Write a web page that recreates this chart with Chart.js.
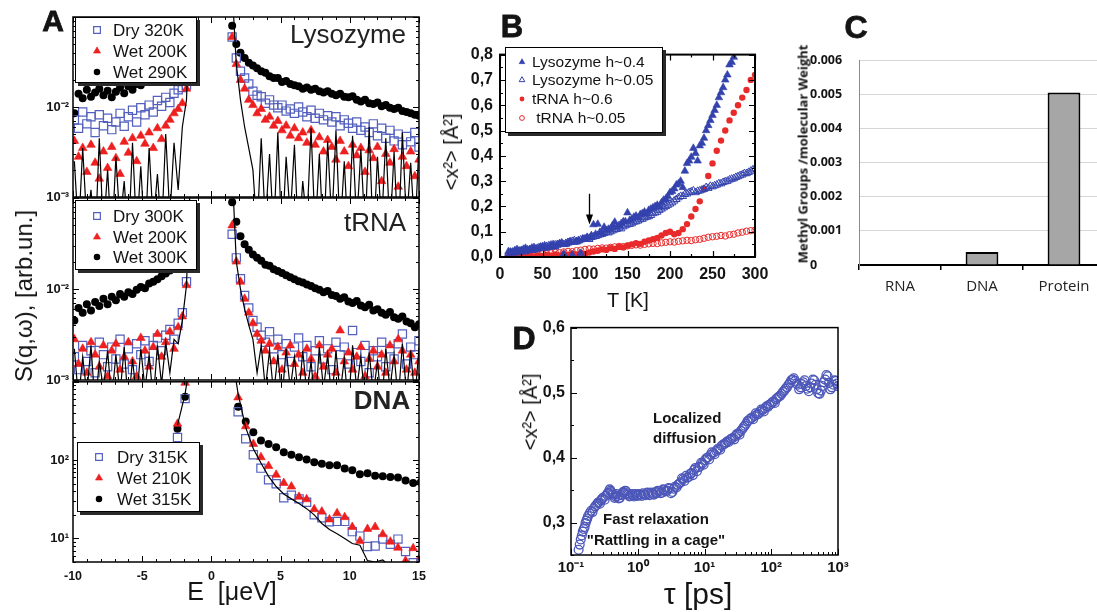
<!DOCTYPE html>
<html>
<head>
<meta charset="utf-8">
<script src="https://cdn.jsdelivr.net/npm/chart.js@4.4.1/dist/chart.umd.min.js"></script>
<style>
  html, body { margin: 0; padding: 0; background: #fff; }
  body { width: 1097px; height: 612px; position: relative; overflow: hidden;
         font-family: "Liberation Sans", Arial, sans-serif; color: #141414; }
  canvas { position: absolute; }
  .t { position: absolute; white-space: nowrap; line-height: 1; transform: translate(-50%, -50%); }
  .l { transform: translate(0, -50%); }
  .r { transform: translate(-50%, -50%) rotate(-90deg); }
  .big { font-weight: bold; -webkit-text-stroke: 0.8px #141414; }
</style>
</head>
<body>
<script>
// ---------- Panel A: quasi-elastic spectra, energy transfer in µeV ----------
const ENERGY_A = [
  -9.9,-9.6,-9.3,-9.0,-8.7,-8.4,-8.1,-7.8,-7.5,-7.2,
  -6.9,-6.6,-6.3,-6.0,-5.7,-5.4,-5.1,-4.8,-4.5,-4.2,
  -3.9,-3.6,-3.3,-3.0,-2.7,-2.4,-2.1,-1.8,-1.5,
  1.5,1.8,2.1,2.4,2.7,3.0,3.3,3.6,3.9,4.2,
  4.5,4.8,5.1,5.4,5.7,6.0,6.3,6.6,6.9,7.2,
  7.5,7.8,8.1,8.4,8.7,9.0,9.3,9.6,9.9,10.2,
  10.5,10.8,11.1,11.4,11.7,12.0,12.3,12.6,12.9,13.2,
  13.5,13.8,14.1,14.4,14.7,15.0
];

// Lysozyme
const LYSO_DRY_320 = [
  .0072,.0058,.0088,.0065,.0078,.0052,.0082,.0062,.0075,.0056,
  .0068,.0085,.0061,.0078,.0092,.0068,.0098,.0082,.0105,.0088,
  .0118,.0102,.0128,.0112,.0142,.0155,.0165,.0175,.030,
  .060,.035,.025,.021,.018,.015,.0135,.013,.011,.012,
  .0105,.0098,.0105,.009,.0095,.0085,.010,.0088,.0078,.0092,
  .0075,.0085,.0072,.008,.0068,.0078,.0062,.0072,.0066,.0058,
  .0068,.0055,.006,.0052,.0065,.0048,.0058,.0045,.0055,.0042,
  .005,.0038,.0047,.0041,.0052,.0036
];
const LYSO_WET_200 = [
  .0042,.0028,.0035,.0019,.0038,.0024,.0016,.0032,.0021,.0036,
  .0027,.0018,.0041,.0031,.0045,.0025,.0048,.0039,.0052,.0035,
  .0058,.0044,.0062,.0072,.0085,.0095,.011,.016,.040,
  .060,.030,.020,.016,.012,.0105,.0085,.0095,.0072,.0078,
  .0062,.007,.0055,.0062,.0048,.0058,.0045,.0052,.004,.0055,
  .0038,.0046,.0032,.0043,.0036,.0026,.0042,.0032,.0022,.0038,
  .0029,.0035,.0019,.0033,.0027,.0036,.0015,.003,.0024,.0034,
  .0013,.0028,.0022,.0032,.0017,.0026
];
const LYSO_WET_290 = [
  .0085,.014,.0125,.0155,.013,.0145,.016,.0135,.0152,.0128,
  .0148,.0165,.0142,.017,.0155,.018,.0175,.020,.021,.023,
  .025,.027,.030,.033,.037,.042,.050,.060,.080,
  .080,.050,.040,.035,.031,.029,.027,.025,.024,.022,
  .021,.021,.019,.0195,.018,.0175,.017,.016,.0165,.0155,
  .016,.015,.0145,.015,.014,.0135,.014,.013,.0128,.0132,
  .012,.0115,.012,.011,.0108,.0112,.0102,.0105,.0098,.0095,
  .0098,.009,.0088,.0085,.0082,.008
];
const LYSO_RESOLUTION = [
  .0025,.0004,.0035,.0005,.0012,.0003,.0045,.0004,.002,.0003,
  .0028,.0005,.0015,.0003,.004,.0004,.0022,.0003,.0035,.0005,
  .0018,.0004,.005,.0006,.004,.0012,.006,.012,.2,
  .2,.03,.012,.006,.0035,.002,.0004,.0045,.0005,.003,
  .0004,.0052,.0003,.0028,.0006,.0038,.0003,.0015,.0005,.0058,
  .0004,.003,.0003,.0042,.0005,.0055,.0004,.0025,.0003,.0048,
  .0005,.0034,.0004,.006,.0003,.0028,.0005,.0045,.0004,.0032,
  .0003,.0052,.0005,.0024,.0004,.0038
];

// tRNA
const TRNA_DRY_300 = [
  .0018,.0013,.0024,.0016,.0021,.0012,.0026,.0019,.0014,.0023,
  .0017,.0028,.0015,.0022,.0013,.0025,.0019,.0027,.0016,.0024,
  .0029,.0021,.0031,.0036,.0028,.0042,.0055,.012,.045,
  .040,.022,.013,.0085,.0062,.0045,.0038,.0031,.0026,.0034,
  .0022,.0028,.0019,.0025,.0016,.0023,.0029,.0018,.0024,.0014,
  .0021,.0027,.0017,.0022,.0013,.0026,.0019,.0023,.0015,.0035,
  .002,.0016,.0024,.0012,.0021,.0018,.0026,.0014,.0022,.0017,
  .0025,.0032,.0015,.0023,.0019,.0027
];
const TRNA_WET_200 = [
  .0028,.0015,.0022,.0012,.0026,.0019,.0014,.0024,.0011,.0021,
  .0025,.0013,.0018,.0026,.0016,.0011,.0029,.0021,.0014,.0023,
  .0032,.0018,.0026,.0034,.0022,.0038,.005,.011,.05,
  .05,.02,.012,.0078,.0055,.0042,.0032,.0027,.0021,.0025,
  .0016,.0023,.0013,.002,.0024,.0015,.0019,.0012,.0022,.0017,
  .0011,.0024,.0014,.0019,.0022,.0012,.0035,.0016,.002,.0013,
  .0018,.0023,.0011,.0017,.0021,.0014,.0019,.0012,.0024,.0016,
  .0028,.0021,.0013,.0019,.0012,.0016
];
const TRNA_WET_300 = [
  .0045,.0062,.0055,.0068,.0058,.0072,.0065,.0078,.0068,.0082,
  .0075,.0088,.0082,.0092,.0088,.0098,.0105,.0102,.0115,.012,
  .0128,.0138,.0148,.016,.0175,.019,.024,.035,.06,
  .09,.055,.038,.031,.027,.024,.022,.0205,.0185,.018,
  .0165,.0158,.015,.0142,.0135,.0128,.0122,.0118,.0112,.0108,
  .0102,.0098,.0092,.0095,.0086,.0084,.0078,.0081,.0073,.007,
  .0074,.0066,.0063,.0067,.0058,.006,.0055,.0052,.0056,.0049,
  .0047,.005,.0044,.0042,.0038,.0041
];
const TRNA_RESOLUTION = [
  .0022,.0006,.0018,.0007,.0024,.0005,.0016,.0008,.0021,.0006,
  .0019,.0007,.0023,.0005,.0017,.0006,.0022,.0008,.0019,.0006,
  .0024,.0009,.0026,.0012,.0028,.0025,.0045,.011,.2,
  .2,.02,.01,.006,.004,.0028,.0012,.0024,.0008,.0021,
  .0007,.0019,.0006,.0022,.0008,.0018,.0006,.0021,.0007,.0016,
  .0005,.0023,.0008,.0019,.0006,.0021,.0007,.0017,.0005,.0024,
  .0008,.0018,.0006,.002,.0007,.0016,.0005,.0022,.0008,.0019,
  .0006,.0025,.0007,.0021,.0006,.0023
];

// DNA
const ENERGY_DNA = [
  -2.45,-1.9,-1.35,1.38,1.93,2.48,3.03,3.58,4.13,4.68,
  5.23,5.78,6.33,6.88,7.43,7.98,8.53,9.08,9.63,10.18,
  10.73,11.28,11.83,12.38,12.93,13.48,14.03,14.58,15.13
];
const DNA_DRY_315 = [194,610,3000,3000,415,187,117,79,56,50, 33,35.6,32,29,20,18.3,16.3,16.5,16.5,12.2, 10.7,7.9,8.0,9.8,8.4,9.8,6.8,4.9,4.8];
const DNA_WET_210 = [291,970,3000,3000,632,270,161,109,84,65, 51,46,34,31.6,23.6,22,17.5,21,18.7,14, 9.3,13.2,14,11.3,9.1,7.6,5.2,7.5,6];
const DNA_WET_315 = [251,645,3000,3000,481,312,227,178,161,146, 126,117,109,102,94,90,86,86,78,74, 66,68,63,62,61,60,55,51,52];
const DNA_RESOLUTION = [280,700,3000,3000,700,260,140,92,62,46, 37,32,28,24,20,15.5,13,11.5,10,8.6, 8.2,5.2,5.0,5.3,4.4,4.0,3.8,3.5,3.3];

const E_TICK_LABELS = [-10, -5, 0, 5, 10, 15];
const LYSO_Y_TICKS = [1e-3, 1e-2];  const LYSO_Y_LABELS = ['10⁻³', '10⁻²'];
const TRNA_Y_TICKS = [1e-3, 1e-2];  const TRNA_Y_LABELS = ['10⁻³', '10⁻²'];
const DNA_Y_TICKS  = [10, 100];     const DNA_Y_LABELS  = ['10¹', '10²'];

// ---------- Panel B: mean square displacement vs temperature ----------
const TEMPERATURE = [
  10,15,20,25,30,35,40,45,50,55, 60,65,70,75,80,85,90,95,100,105,
  110,115,120,125,130,135,140,145,150,155, 160,165,170,175,180,185,190,195,200,205,
  210,215,220,225,230,235,240,245,250,255, 260,265,270,275,280,285,290,295,300
];
const LYSO_H04 = [
  .022,.018,.030,.025,.035,.028,.038,.032,.042,.036, .048,.040,.052,.012,.055,.008,.062,.015,.070,.075,
  .128,.130,.095,.105,.112,.138,.125,.140,.175,.150, .162,.168,.178,.185,.195,.205,.215,.230,.255,.270,
  .290,.275,.370,.395,.410,.440,.470,.520,.560,.600, .650,.700,.760,.790,null,null,null,null,null
];
const LYSO_H005 = [
  .015,.020,.018,.025,.022,.030,.028,.036,.034,.042, .040,.048,.052,.050,.058,.062,.060,.068,.072,.070,
  .080,.085,.090,.098,.100,.108,.115,.120,.128,.132, .140,.148,.155,.160,.172,.178,.190,.200,.210,.222,
  .235,.240,.250,.258,.255,.262,.268,.272,.278,.285, .290,.298,.305,.310,.318,.325,.330,.340,.350
];
// second, interleaved scan of the two lysozyme samples
const TEMPERATURE_2 = [
  12.5,17.5,22.5,27.5,32.5,37.5,42.5,47.5,52.5,57.5, 62.5,67.5,72.5,77.5,82.5,87.5,92.5,97.5,102.5,107.5,
  112.5,117.5,122.5,127.5,132.5,137.5,142.5,147.5,152.5,157.5, 162.5,167.5,172.5,177.5,182.5,187.5,192.5,197.5,202.5,207.5,
  212.5,217.5,222.5,227.5,232.5,237.5,242.5,247.5,252.5,257.5, 262.5,267.5,272.5,277.5,282.5,287.5,292.5,297.5
];
const LYSO_H04_2 = [
  .020,.026,.022,.031,.027,.036,.030,.040,.045,.039, .050,.046,.055,.050,.060,.058,.066,.072,.078,.085,
  .090,.098,.118,.110,.125,.118,.132,.140,.145,.158, .155,.172,.170,.190,.200,.198,.225,.240,.260,.285,
  .300,.340,.380,.430,.380,.450,.500,.540,.580,.630, .670,.720,.770,null,null,null,null,null
];
const LYSO_H005_2 = [
  .018,.016,.024,.021,.028,.026,.033,.038,.036,.045, .043,.050,.055,.054,.060,.065,.064,.070,.075,.078,
  .082,.088,.094,.096,.104,.110,.112,.124,.130,.138, .143,.150,.158,.165,.175,.185,.195,.205,.215,.228,
  .240,.248,.255,.262,.260,.265,.275,.280,.282,.290, .295,.300,.308,.315,.322,.330,.335,.345
];
const TRNA_H06 = [
  .000,.002,.000,.003,.001,.004,.002,.006,.003,.008, .005,.010,.006,.012,.008,.014,.010,.016,.012,.018,
  .022,.025,.030,.028,.035,.032,.040,.038,.045,.050, .055,.052,.060,.065,.070,.075,.085,.095,.100,.090,
  .095,.110,.130,.160,.190,.220,.270,.320,.370,.420, .460,.500,.540,.570,.600,.630,.660,.700,.720
];
const TRNA_H005 = [
  .003,.005,.004,.007,.006,.009,.008,.012,.014,.013, .016,.018,.017,.020,.022,.021,.025,.027,.030,.032,
  .031,.034,.036,.035,.038,.040,.042,.041,.044,.046, .048,.047,.050,.052,.054,.053,.056,.058,.060,.059,
  .062,.064,.066,.065,.068,.070,.074,.078,.080,.082, .085,.083,.088,.090,.095,.098,.102,.104,.106
];
const T_TICK_LABELS = [0, 50, 100, 150, 200, 250, 300];
const MSD_B_TICKS = [0, 0.1, 0.2, 0.3, 0.4, 0.5, 0.6, 0.7, 0.8];
const MSD_B_LABELS = ['0,0','0,1','0,2','0,3','0,4','0,5','0,6','0,7','0,8'];
const ARROW_T = 105, ARROW_FROM = 0.25, ARROW_TO = 0.128;

// ---------- Panel C: methyl groups per molecular weight ----------
const MOLECULES = ['RNA', 'DNA', 'Protein'];
const METHYL_PER_MW = [0, 0.00038, 0.00505];
const C_Y_TICKS = [0, 0.001, 0.002, 0.003, 0.004, 0.005, 0.006];
const C_Y_LABELS = ['0', '0.001', '0.002', '0.003', '0.004', '0.005', '0.006'];

// ---------- Panel D: MSD vs time window ----------
const TAU_PS = [
  0.13,0.135,0.14,0.145,0.15,0.155,0.16,0.165,0.17,0.175,
  0.18,0.19,0.20,0.21,0.22,0.23,0.24,0.25,0.26,0.27,
  0.28,0.29,0.30,0.32,0.33,0.35,0.36,0.38,0.39,0.40,
  0.42,0.43,0.45,0.46,0.48,0.50,0.52,0.54,0.56,0.58,
  0.60,0.62,0.65,0.67,0.70,0.72,0.75,0.78,0.82,0.85,
  0.88,0.92,0.96,1.0,1.05,1.1,1.15,1.2,1.25,1.3,
  1.4,1.45,1.5,1.6,1.7,1.75,1.85,1.9,2.0,2.1,
  2.2,2.3,2.4,2.5,2.6,2.75,2.9,3.0,3.15,3.3,
  3.45,3.6,3.8,4.0,4.2,4.4,4.6,4.8,5.0,5.3,
  5.5,5.8,6.1,6.4,6.7,7.0,7.3,7.7,8.1,8.5,
  8.9,9.3,9.7,10.2,10.7,11.2,11.7,12.3,12.9,13.5,
  14.2,15,15.7,16.5,17.2,18,19,20,21,22,
  23,24,25,26.5,28,29,30.5,32,33.5,35,
  37,38.5,40,42,44,46,48.5,51,53.5,56,
  58.5,61,64,67,70.5,74,77.5,81,85,89,
  93,98,103,108,113,118,124,130,136,143,
  150,157,164,172,181,190,199,208,218,228,
  239,250,262,275,287,300,315,330,347,365,
  382,400,420,440,460,480,505,530,555,580,
  610,640,670,700,735,770,810,850,890,930,
  965,1000
];
const MSD_TAU = [
  .258,.266,.274,.280,.286,.290,.293,.299,.303,.306,
  .310,.314,.318,.316,.322,.325,.327,.330,.331,.329,
  .334,.336,.338,.335,.341,.344,.346,.351,.349,.347,
  .345,.343,.338,.340,.344,.341,.337,.338,.342,.344,
  .347,.346,.349,.348,.345,.343,.340,.341,.344,.342,
  .340,.344,.342,.341,.344,.343,.341,.345,.343,.342,
  .346,.344,.342,.346,.344,.343,.347,.345,.349,.348,
  .345,.346,.351,.350,.348,.349,.353,.352,.345,.347,
  .352,.355,.354,.358,.360,.362,.368,.367,.364,.372,
  .369,.370,.375,.376,.373,.381,.384,.379,.385,.386,
  .392,.391,.389,.396,.399,.400,.397,.404,.408,.407,
  .405,.410,.413,.414,.412,.418,.420,.421,.423,.425,
  .424,.427,.429,.430,.428,.433,.436,.437,.435,.441,
  .444,.447,.449,.452,.456,.457,.460,.461,.459,.464,
  .468,.466,.467,.470,.474,.473,.471,.476,.479,.478,
  .481,.482,.485,.486,.484,.490,.492,.494,.495,.498,
  .501,.503,.506,.508,.512,.515,.519,.520,.522,.518,
  .514,.512,.505,.508,.513,.516,.519,.510,.506,.502,
  .508,.514,.520,.519,.512,.505,.499,.498,.503,.510,
  .516,.520,.527,.525,.515,.505,.508,.512,.519,.518,
  .514,.510
];
const TAU_TICKS = [0.1, 1, 10, 100, 1000];
const TAU_LABELS = ['10⁻¹', '10⁰', '10¹', '10²', '10³'];
const MSD_D_TICKS = [0.3, 0.4, 0.5, 0.6];
const MSD_D_LABELS = ['0,3', '0,4', '0,5', '0,6'];

// ---------- helpers ----------
const FONT = '"Liberation Sans", Arial, sans-serif';
Chart.defaults.font.family = FONT;
Chart.defaults.color = '#141414';
Chart.defaults.animation = false;

const BLUE_A = '#5360bd', RED_A = '#ee1f1f';
const BLUE_B = '#3342ad', RED_B = '#e92a2a';
const BLUE_D = '#4c57b9';
const NO_GRID = { display: false, drawTicks: false };

function mount(box) {
  const cv = document.createElement('canvas');
  cv.width = box.w; cv.height = box.h;
  cv.style.left = box.x + 'px'; cv.style.top = box.y + 'px';
  cv.style.width = box.w + 'px'; cv.style.height = box.h + 'px';
  document.body.appendChild(cv);
  return cv;
}
function geometry(box, plot) {
  return {
    padding: { left: 0, top: plot.t - box.y, right: box.x + box.w - plot.r, bottom: 0 },
    yW: plot.l - box.x,
    xH: box.y + box.h - plot.b
  };
}
function near(a, b) { return Math.abs(a - b) <= 1e-6 * (Math.abs(a) || 1); }
function labeler(ticks, labels) {
  return v => { const i = ticks.findIndex(m => near(m, v)); return i >= 0 ? labels[i] : ''; };
}
function linTicks(min, max, step) {
  const n = Math.round((max - min) / step), out = [];
  for (let k = 0; k <= n; k++) out.push(+(min + k * step).toFixed(6));
  return out;
}
function logTicks(min, max) {
  const out = [];
  for (let d = Math.floor(Math.log10(min)); d <= Math.ceil(Math.log10(max)); d++)
    for (let m = 1; m <= 9; m++) {
      const v = +(m * Math.pow(10, d)).toPrecision(6);
      if (v >= min * 0.999 && v <= max * 1.001) out.push(v);
    }
  return out;
}
function decades(min, max) { return logTicks(min, max).filter(v => near(Math.pow(10, Math.round(Math.log10(v))), v)); }
function pts(xs, ys) {
  return xs.map((x, i) => ({ x, y: ys[i] })).filter(p => p.y !== null && p.y !== undefined);
}
function drawMarker(ctx, style, r, bw, x, y) {
  if (Chart.helpers && Chart.helpers.drawPoint) {
    Chart.helpers.drawPoint(ctx, { pointStyle: style, radius: r, borderWidth: bw, rotation: 0 }, x, y);
    return;
  }
  ctx.beginPath(); ctx.arc(x, y, r, 0, Math.PI * 2); ctx.fill(); if (bw > 0) ctx.stroke();
}

// box outline around the plotting area
const frame = {
  id: 'frame',
  afterDatasetsDraw(chart, _a, o) {
    if (!o || !o.width) return;
    const a = chart.chartArea, ctx = chart.ctx;
    ctx.save(); ctx.strokeStyle = '#000'; ctx.lineWidth = o.width;
    ctx.strokeRect(a.left, a.top, a.right - a.left, a.bottom - a.top);
    ctx.restore();
  }
};
// tick marks pointing into the plot, on the requested sides
const innerTicks = {
  id: 'innerTicks',
  afterDatasetsDraw(chart, _a, o) {
    if (!o || !o.sides) return;
    const ctx = chart.ctx, a = chart.chartArea, sides = o.sides;
    ctx.save(); ctx.strokeStyle = '#000'; ctx.lineWidth = o.lineWidth || 1;
    ctx.beginPath();
    const xs = chart.scales.x, ys = chart.scales.y;
    xs.ticks.forEach(t => {
      const p = Math.round(xs.getPixelForValue(t.value)) + 0.5;
      const len = o.xMajors.some(m => near(m, t.value)) ? o.major : o.minor;
      if (sides.includes('bottom')) { ctx.moveTo(p, a.bottom); ctx.lineTo(p, a.bottom - len); }
      if (sides.includes('top')) { ctx.moveTo(p, a.top); ctx.lineTo(p, a.top + len); }
    });
    ys.ticks.forEach(t => {
      const p = Math.round(ys.getPixelForValue(t.value)) + 0.5;
      const len = o.yMajors.some(m => near(m, t.value)) ? o.major : o.minor;
      if (sides.includes('left')) { ctx.moveTo(a.left, p); ctx.lineTo(a.left + len, p); }
      if (sides.includes('right')) { ctx.moveTo(a.right, p); ctx.lineTo(a.right - len, p); }
    });
    ctx.stroke(); ctx.restore();
  }
};
// boxed legend with a drop shadow, placed inside the plot
const legendBox = {
  id: 'legendBox',
  afterDraw(chart, _a, o) {
    if (!o || !o.box) return;
    const ctx = chart.ctx, ox = o.origin.x, oy = o.origin.y;
    const bx = o.box.x - ox, by = o.box.y - oy, bw = o.box.w, bh = o.box.h;
    ctx.save();
    ctx.fillStyle = '#2a2a2a';
    ctx.fillRect(bx + o.shadow, by + o.shadow, bw, bh);
    ctx.fillStyle = '#fff';
    ctx.fillRect(bx, by, bw, bh);
    ctx.strokeStyle = '#000'; ctx.lineWidth = 1;
    ctx.strokeRect(bx + 0.5, by + 0.5, bw - 1, bh - 1);
    ctx.font = o.textFont; ctx.textBaseline = 'middle'; ctx.textAlign = 'left';
    const items = chart.data.datasets.filter(d => d.label);
    items.forEach((d, i) => {
      const cy = o.rows[i] - oy;
      ctx.fillStyle = d.pointBackgroundColor; ctx.strokeStyle = d.pointBorderColor;
      ctx.lineWidth = d.pointBorderWidth;
      drawMarker(ctx, d.pointStyle, d.pointRadius * o.markerScale, d.pointBorderWidth, o.markerX - ox, cy);
      ctx.fillStyle = '#141414';
      ctx.fillText(d.label, o.textX - ox, cy + 1);
    });
    ctx.restore();
  }
};
// vertical arrow given in data coordinates
const arrow = {
  id: 'arrow',
  afterDatasetsDraw(chart, _a, o) {
    if (!o || o.x === undefined) return;
    const ctx = chart.ctx, xs = chart.scales.x, ys = chart.scales.y;
    const x = Math.round(xs.getPixelForValue(o.x)) + 0.5;
    const y0 = ys.getPixelForValue(o.from), y1 = ys.getPixelForValue(o.to);
    ctx.save(); ctx.strokeStyle = '#000'; ctx.fillStyle = '#000'; ctx.lineWidth = 1.3;
    ctx.beginPath(); ctx.moveTo(x, y0); ctx.lineTo(x, y1 - 8); ctx.stroke();
    ctx.beginPath(); ctx.moveTo(x - 3.5, y1 - 10); ctx.lineTo(x + 3.5, y1 - 10); ctx.lineTo(x, y1); ctx.closePath(); ctx.fill();
    ctx.restore();
  }
};

function scatterSet(label, data, style) {
  return Object.assign({ label, data, showLine: false, clip: 0 }, style);
}
const STYLE_SQUARE = { pointStyle: 'rect', pointRadius: 5.8, pointBorderWidth: 1.2, pointBorderColor: BLUE_A, pointBackgroundColor: 'rgba(0,0,0,0)', borderColor: BLUE_A, backgroundColor: 'rgba(0,0,0,0)', order: 3 };
const STYLE_TRI = { pointStyle: 'triangle', pointRadius: 5, pointBorderWidth: 0.6, pointBorderColor: RED_A, pointBackgroundColor: RED_A, borderColor: RED_A, backgroundColor: RED_A, order: 2 };
const STYLE_DOT = { pointStyle: 'circle', pointRadius: 4, pointBorderWidth: 0, pointBorderColor: '#000', pointBackgroundColor: '#000', borderColor: '#000', backgroundColor: '#000', order: 4 };
const STYLE_LINE = { showLine: true, pointRadius: 0, borderColor: '#000', borderWidth: 1.2, order: 1, clip: 0 };

function panelA(box, plot, ymin, ymax, yTicks, yLabels, sets, showX, legend) {
  const g = geometry(box, plot);
  return new Chart(mount(box), {
    type: 'scatter',
    data: { datasets: sets },
    options: {
      responsive: false, devicePixelRatio: 1, animation: false,
      layout: { padding: g.padding },
      plugins: {
        legend: { display: false }, tooltip: { enabled: false },
        frame: { width: 1.5 },
        innerTicks: { sides: ['bottom', 'top', 'left', 'right'], xMajors: E_TICK_LABELS, yMajors: decades(ymin, ymax), major: 6, minor: 3, lineWidth: 1 },
        legendBox: legend
      },
      scales: {
        x: {
          type: 'linear', min: -10, max: 15,
          afterBuildTicks: s => { s.ticks = linTicks(-10, 15, 1).map(v => ({ value: v })); },
          ticks: { display: showX, autoSkip: false, maxRotation: 0, minRotation: 0, padding: 7,
                   font: { size: 12.5, weight: 'bold' }, color: '#141414',
                   callback: v => (E_TICK_LABELS.includes(v) ? String(v) : '') },
          grid: NO_GRID, border: { display: false },
          afterFit: s => { s.height = g.xH; }
        },
        y: {
          type: 'logarithmic', min: ymin, max: ymax,
          afterBuildTicks: s => { s.ticks = logTicks(ymin, ymax).map(v => ({ value: v })); },
          ticks: { autoSkip: false, padding: 4, font: { size: 13, weight: 'bold' }, color: '#141414',
                   callback: labeler(yTicks, yLabels) },
          grid: NO_GRID, border: { display: false },
          afterFit: s => { s.width = g.yW; }
        }
      }
    },
    plugins: [frame, innerTicks, legendBox]
  });
}

// ---- A: Lysozyme ----
(function () {
  const box = { x: 0, y: 0, w: 445, h: 212 };
  panelA(box, { l: 73, t: 17, r: 419, b: 197 }, 1e-3, 1e-1, LYSO_Y_TICKS, LYSO_Y_LABELS, [
    scatterSet('Dry 320K', pts(ENERGY_A, LYSO_DRY_320), STYLE_SQUARE),
    scatterSet('Wet 200K', pts(ENERGY_A, LYSO_WET_200), STYLE_TRI),
    scatterSet('Wet 290K', pts(ENERGY_A, LYSO_WET_290), STYLE_DOT),
    Object.assign({ data: pts(ENERGY_A, LYSO_RESOLUTION) }, STYLE_LINE)
  ], false, { origin: box, box: { x: 75, y: 17, w: 122, h: 66 }, shadow: 3, rows: [30, 51, 72],
              markerX: 97, textX: 113, markerScale: 0.82, textFont: '17px ' + FONT });
})();
// ---- A: tRNA ----
(function () {
  const box = { x: 0, y: 185, w: 445, h: 210 };
  panelA(box, { l: 73, t: 198, r: 419, b: 380 }, 1e-3, 1e-1, TRNA_Y_TICKS, TRNA_Y_LABELS, [
    scatterSet('Dry 300K', pts(ENERGY_A, TRNA_DRY_300), STYLE_SQUARE),
    scatterSet('Wet 200K', pts(ENERGY_A, TRNA_WET_200), STYLE_TRI),
    scatterSet('Wet 300K', pts(ENERGY_A, TRNA_WET_300), STYLE_DOT),
    Object.assign({ data: pts(ENERGY_A, TRNA_RESOLUTION) }, STYLE_LINE)
  ], false, { origin: box, box: { x: 75, y: 200, w: 122, h: 70 }, shadow: 3, rows: [216, 237, 257],
              markerX: 97, textX: 113, markerScale: 0.82, textFont: '17px ' + FONT });
})();
// ---- A: DNA ----
(function () {
  const box = { x: 0, y: 370, w: 445, h: 222 };
  panelA(box, { l: 73, t: 381, r: 419, b: 562 }, 5, 1000, DNA_Y_TICKS, DNA_Y_LABELS, [
    scatterSet('Dry 315K', pts(ENERGY_DNA, DNA_DRY_315), STYLE_SQUARE),
    scatterSet('Wet 210K', pts(ENERGY_DNA, DNA_WET_210), STYLE_TRI),
    scatterSet('Wet 315K', pts(ENERGY_DNA, DNA_WET_315), STYLE_DOT),
    Object.assign({ data: pts(ENERGY_DNA, DNA_RESOLUTION) }, STYLE_LINE)
  ], true, { origin: box, box: { x: 77, y: 442, w: 123, h: 70 }, shadow: 3, rows: [457, 478, 499],
             markerX: 99, textX: 117, markerScale: 0.82, textFont: '17px ' + FONT });
})();

// ---- B ----
(function () {
  const box = { x: 440, y: 38, w: 345, h: 250 };
  const g = geometry(box, { l: 500, t: 51, r: 755, b: 257 });
  new Chart(mount(box), {
    type: 'scatter',
    data: { datasets: [
      scatterSet('Lysozyme h~0.4', pts(TEMPERATURE, LYSO_H04).concat(pts(TEMPERATURE_2, LYSO_H04_2)),
        { pointStyle: 'triangle', pointRadius: 4.4, pointBorderWidth: 0.6, pointBorderColor: BLUE_B, pointBackgroundColor: BLUE_B, order: 1 }),
      scatterSet('Lysozyme h~0.05', pts(TEMPERATURE, LYSO_H005).concat(pts(TEMPERATURE_2, LYSO_H005_2)),
        { pointStyle: 'triangle', pointRadius: 4.4, pointBorderWidth: 1, pointBorderColor: BLUE_B, pointBackgroundColor: 'rgba(0,0,0,0)', order: 2 }),
      scatterSet('tRNA h~0.6', pts(TEMPERATURE, TRNA_H06),
        { pointStyle: 'circle', pointRadius: 3.2, pointBorderWidth: 0, pointBorderColor: RED_B, pointBackgroundColor: RED_B, order: 3 }),
      scatterSet(' tRNA h~0.05', pts(TEMPERATURE, TRNA_H005),
        { pointStyle: 'circle', pointRadius: 3.2, pointBorderWidth: 1, pointBorderColor: RED_B, pointBackgroundColor: 'rgba(0,0,0,0)', order: 4 })
    ] },
    options: {
      responsive: false, devicePixelRatio: 1, animation: false,
      layout: { padding: g.padding },
      plugins: {
        legend: { display: false }, tooltip: { enabled: false },
        frame: { width: 2 },
        innerTicks: { sides: ['bottom', 'top', 'left', 'right'], xMajors: T_TICK_LABELS, yMajors: MSD_B_TICKS, major: 6, minor: 3, lineWidth: 1.2 },
        legendBox: { origin: box, box: { x: 505, y: 47, w: 158, h: 86 }, shadow: 3, rows: [62, 80, 99, 118],
                     markerX: 522, textX: 532, markerScale: 0.75, textFont: '15.5px ' + FONT },
        arrow: { x: ARROW_T, from: ARROW_FROM, to: ARROW_TO }
      },
      scales: {
        x: {
          type: 'linear', min: 0, max: 300,
          afterBuildTicks: s => { s.ticks = linTicks(0, 300, 25).map(v => ({ value: v })); },
          ticks: { autoSkip: false, maxRotation: 0, padding: 8, font: { size: 16, weight: 'bold' }, color: '#141414',
                   callback: v => (T_TICK_LABELS.includes(v) ? String(v) : '') },
          grid: NO_GRID, border: { display: false },
          afterFit: s => { s.height = g.xH; }
        },
        y: {
          type: 'linear', min: 0, max: 0.8,
          afterBuildTicks: s => { s.ticks = linTicks(0, 0.8, 0.05).map(v => ({ value: v })); },
          ticks: { autoSkip: false, padding: 7, font: { size: 16, weight: 'bold' }, color: '#141414',
                   callback: labeler(MSD_B_TICKS, MSD_B_LABELS) },
          grid: NO_GRID, border: { display: false },
          afterFit: s => { s.width = g.yW; }
        }
      }
    },
    plugins: [frame, innerTicks, legendBox, arrow]
  });
})();

// ---- C ----
(function () {
  const box = { x: 810, y: 40, w: 310, h: 265 };
  const g = geometry(box, { l: 859, t: 60, r: 1105, b: 265 });
  new Chart(mount(box), {
    type: 'bar',
    data: { labels: MOLECULES, datasets: [{
      data: METHYL_PER_MW, backgroundColor: '#a6a6a6', borderColor: '#000', borderWidth: 2,
      barPercentage: 0.4, categoryPercentage: 1.0
    }] },
    options: {
      responsive: false, devicePixelRatio: 1, animation: false,
      layout: { padding: g.padding },
      plugins: { legend: { display: false }, tooltip: { enabled: false } },
      scales: {
        x: {
          ticks: { font: { family: '"Open Sans", ' + FONT, size: 15 }, color: '#222', padding: 8, maxRotation: 0 },
          grid: { display: true, drawOnChartArea: false, drawTicks: true, tickLength: 5, color: '#000', lineWidth: 1.5, offset: true },
          border: { display: true, color: '#000', width: 2 },
          afterFit: s => { s.height = g.xH; }
        },
        y: {
          min: 0, max: 0.006,
          afterBuildTicks: s => { s.ticks = C_Y_TICKS.map(v => ({ value: v })); },
          ticks: { crossAlign: 'far', padding: 6, font: { family: '"Open Sans", ' + FONT, size: 12.5, weight: 'bold' }, color: '#141414',
                   callback: labeler(C_Y_TICKS, C_Y_LABELS) },
          grid: { color: '#d6d6d6', lineWidth: 1, drawTicks: false },
          border: { display: true, color: '#8a8a8a', width: 1 },
          afterFit: s => { s.width = g.yW; }
        }
      }
    }
  });
})();

// ---- D ----
(function () {
  const box = { x: 515, y: 312, w: 350, h: 282 };
  const g = geometry(box, { l: 571, t: 327, r: 838, b: 555 });
  new Chart(mount(box), {
    type: 'scatter',
    data: { datasets: [{
      data: pts(TAU_PS, MSD_TAU), clip: 0,
      pointStyle: 'circle', pointRadius: 4.4, pointBorderWidth: 1.3,
      pointBorderColor: BLUE_D, pointBackgroundColor: 'rgba(0,0,0,0)'
    }] },
    options: {
      responsive: false, devicePixelRatio: 1, animation: false,
      layout: { padding: g.padding },
      plugins: {
        legend: { display: false }, tooltip: { enabled: false },
        frame: { width: 1.5 },
        innerTicks: { sides: ['bottom', 'left'], xMajors: TAU_TICKS, yMajors: MSD_D_TICKS, major: 6, minor: 3, lineWidth: 1 }
      },
      scales: {
        x: {
          type: 'logarithmic', min: 0.1, max: 1000,
          afterBuildTicks: s => { s.ticks = logTicks(0.1, 1000).map(v => ({ value: v })); },
          ticks: { autoSkip: false, maxRotation: 0, padding: 4, font: { size: 15, weight: 'bold' }, color: '#141414',
                   callback: labeler(TAU_TICKS, TAU_LABELS) },
          grid: NO_GRID, border: { display: false },
          afterFit: s => { s.height = g.xH; }
        },
        y: {
          type: 'linear', min: 0.25, max: 0.6,
          afterBuildTicks: s => { s.ticks = linTicks(0.25, 0.6, 0.05).map(v => ({ value: v })); },
          ticks: { autoSkip: false, padding: 6, font: { size: 16, weight: 'bold' }, color: '#141414',
                   callback: labeler(MSD_D_TICKS, MSD_D_LABELS) },
          grid: NO_GRID, border: { display: false },
          afterFit: s => { s.width = g.yW; }
        }
      }
    },
    plugins: [frame, innerTicks]
  });
})();
</script>

<!-- panel letters -->
<div class="t big" style="left:53px;top:21px;font-size:30px;">A</div>
<div class="t big" style="left:512px;top:26px;font-size:31px;">B</div>
<div class="t big" style="left:856px;top:27px;font-size:32px;">C</div>
<div class="t big" style="left:524px;top:338px;font-size:32px;">D</div>

<!-- panel A texts -->
<div class="t" style="left:348px;top:34px;font-size:26px;color:#222;">Lysozyme</div>
<div class="t" style="left:375px;top:222px;font-size:26px;color:#222;">tRNA</div>
<div class="t" style="left:382px;top:400px;font-size:26px;font-weight:bold;color:#222;">DNA</div>
<div class="t r" style="left:24px;top:296px;font-size:24px;">S(q,ω), [arb.un.]</div>
<div class="t" style="left:232px;top:591px;font-size:25px;">E&nbsp; [μeV]</div>

<!-- panel B texts -->
<div class="t" style="left:628px;top:300px;font-size:20px;">T [K]</div>
<div class="t r" style="left:451px;top:152px;font-size:20px;">&lt;x²&gt; [Å²]</div>

<!-- panel C texts -->
<div class="t r" style="left:803px;top:154px;font-size:13px;font-weight:bold;font-family:'Open Sans','Liberation Sans',Arial,sans-serif;">Methyl Groups /molecular Weight</div>

<!-- panel D texts -->
<div class="t r" style="left:530px;top:412px;font-size:20px;">&lt;x²&gt; [Å²]</div>
<div class="t" style="left:698px;top:594px;font-size:30px;">τ [ps]</div>
<div class="t l" style="left:653px;top:417px;font-size:15px;font-weight:bold;">Localized</div>
<div class="t l" style="left:653px;top:437px;font-size:15px;font-weight:bold;">diffusion</div>
<div class="t" style="left:656px;top:518px;font-size:15px;font-weight:bold;">Fast relaxation</div>
<div class="t" style="left:656px;top:539px;font-size:15px;font-weight:bold;">"Rattling in a cage"</div>
</body>
</html>
